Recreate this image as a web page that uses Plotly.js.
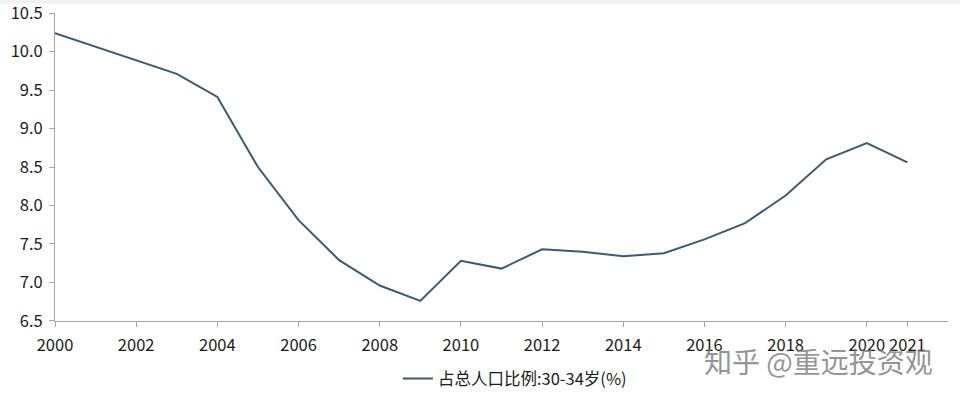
<!DOCTYPE html>
<html><head><meta charset="utf-8">
<script src="https://cdn.plot.ly/plotly-3.0.1.min.js"></script>
<style>html,body{margin:0;padding:0;background:#fff}#c{width:960px;height:393px}</style>
</head><body><div id="c"></div>
<script>
const years = [2000,2001,2002,2003,2004,2005,2006,2007,2008,2009,2010,2011,2012,2013,2014,2015,2016,2017,2018,2019,2020,2021];
const share = [10.24,10.06,9.88,9.71,9.41,8.50,7.81,7.29,6.96,6.76,7.28,7.18,7.43,7.40,7.34,7.38,7.56,7.77,8.13,8.60,8.81,8.56];
const xTicks = [2000,2002,2004,2006,2008,2010,2012,2014,2016,2018,2020,2021];
const yTicks = [6.5,7.0,7.5,8.0,8.5,9.0,9.5,10.0,10.5];
const seriesName = '占总人口比例:30-34岁(%)';
const font = '"Noto Sans CJK SC", "Noto Sans", sans-serif';

Plotly.newPlot('c', [{
  x: years, y: share, type: 'scatter', mode: 'lines', name: seriesName,
  line: {color: '#3b5a74', width: 2}
}], {
  width: 960, height: 393,
  margin: {l: 55, r: 12, t: 13, b: 72, autoexpand: false},
  paper_bgcolor: '#fff', plot_bgcolor: '#fff',
  font: {family: font, size: 16.5, color: '#1a1a1a'},
  showlegend: true,
  legend: {orientation: 'h', x: 0.515, xanchor: 'center', yref: 'container', y: 0.036, yanchor: 'middle',
    font: {size: 16.5, color: '#1a1a1a'}, itemwidth: 30},
  xaxis: {range: [2000, 2022], tickvals: xTicks, ticktext: xTicks.map(String), showgrid: false, zeroline: false,
    showline: true, linecolor: '#a6a6a6', linewidth: 1, ticks: 'outside', ticklen: 5, tickcolor: '#a6a6a6',
    ticklabelstandoff: 4, ticklabeloverflow: 'allow', automargin: false},
  yaxis: {range: [6.499, 10.501], tickvals: yTicks, ticktext: yTicks.map(v => v.toFixed(1)), showgrid: false, zeroline: false,
    showline: true, linecolor: '#a6a6a6', linewidth: 1, ticks: 'outside', ticklen: 5, tickcolor: '#a6a6a6',
    ticklabelstandoff: 3, ticklabeloverflow: 'allow', automargin: false},
  shapes: [{type: 'rect', xref: 'paper', yref: 'paper', x0: -0.07, x1: 1.02, y0: 1.03, y1: 1.06, fillcolor: '#f2f2f2', line: {width: 0}, layer: 'below'}],
  annotations: [{xref: 'paper', yref: 'paper', x: 0.985, y: -0.06, xanchor: 'right', yanchor: 'top', showarrow: false,
    text: '知乎 @重远投资观', font: {family: font, size: 28, color: 'rgba(120,120,120,0.8)'}}]
}, {displayModeBar: false, staticPlot: true});
</script></body></html>
